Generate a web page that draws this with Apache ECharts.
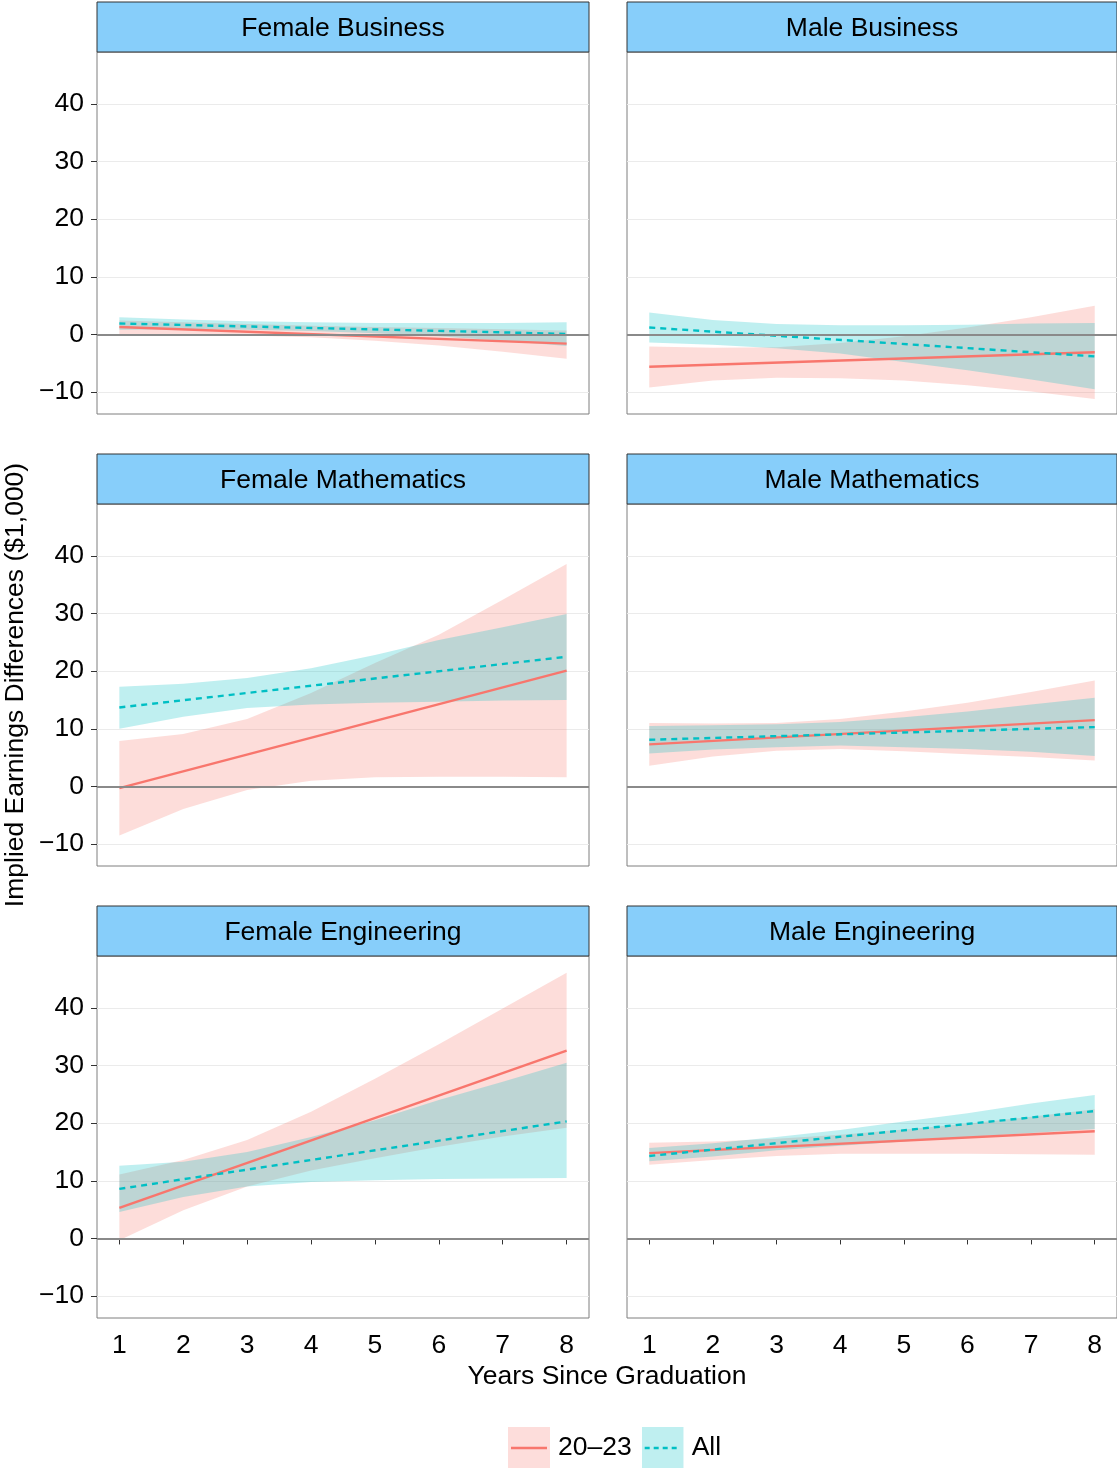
<!DOCTYPE html>
<html>
<head>
<meta charset="utf-8">
<script src="https://cdn.jsdelivr.net/npm/echarts@6/dist/echarts.min.js"></script>
<style>
  html, body { margin: 0; padding: 0; background: #fff; }
  #chart { width: 1117px; height: 1468px; }
</style>
</head>
<body>
<div id="chart"></div>
<script>
// years on the x axis (band points) and the end points of the fitted lines
const years = [1, 2, 3, 4, 5, 6, 7, 8];
const lineYears = [1, 8];
const xTicks = [1, 2, 3, 4, 5, 6, 7, 8];
const yTicks = [-10, 0, 10, 20, 30, 40];
const panelTitles = ['Female Business', 'Male Business', 'Female Mathematics',
  'Male Mathematics', 'Female Engineering', 'Male Engineering'];
const groupNames = ['20–23', 'All'];

// Female Business
const fBusYoungLine = [1.3, -1.6];
const fBusYoungHi = [2.4, 2.1, 1.8, 1.5, 1.3, 1.1, 0.9, 0.7];
const fBusYoungLo = [0.1, 0.0, -0.2, -0.5, -1.1, -1.9, -3.0, -4.2];
const fBusAllLine = [1.9, 0.1];
const fBusAllHi = [3.0, 2.6, 2.3, 2.1, 2.0, 2.0, 2.0, 2.1];
const fBusAllLo = [0.8, 0.9, 0.8, 0.6, 0.2, -0.3, -1.1, -2.0];

// Male Business
const mBusYoungLine = [-5.6, -3.1];
const mBusYoungHi = [-2.1, -2.3, -2.2, -1.5, -0.3, 1.2, 3.0, 5.0];
const mBusYoungLo = [-9.2, -8.0, -7.5, -7.6, -8.0, -8.8, -9.9, -11.2];
const mBusAllLine = [1.2, -3.8];
const mBusAllHi = [3.8, 2.5, 1.8, 1.6, 1.6, 1.7, 1.9, 2.0];
const mBusAllLo = [-1.4, -1.8, -2.4, -3.3, -4.8, -6.2, -7.8, -9.5];

// Female Mathematics
const fMathYoungLine = [-0.3, 20.1];
const fMathYoungHi = [7.9, 9.1, 11.7, 16.2, 21.4, 26.3, 32.4, 38.6];
const fMathYoungLo = [-8.5, -3.9, -0.6, 1.0, 1.6, 1.7, 1.7, 1.6];
const fMathAllLine = [13.7, 22.5];
const fMathAllHi = [17.3, 17.8, 18.8, 20.5, 22.8, 25.4, 27.6, 29.9];
const fMathAllLo = [10.0, 12.1, 13.6, 14.2, 14.5, 14.7, 14.9, 15.0];

// Male Mathematics
const mMathYoungLine = [7.3, 11.5];
const mMathYoungHi = [11.0, 10.9, 11.0, 11.7, 13.0, 14.5, 16.4, 18.4];
const mMathYoungLo = [3.6, 5.2, 6.2, 6.5, 6.1, 5.6, 5.1, 4.5];
const mMathAllLine = [8.1, 10.3];
const mMathAllHi = [10.5, 10.6, 10.8, 11.2, 12.0, 13.0, 14.2, 15.4];
const mMathAllLo = [5.7, 6.4, 6.8, 7.1, 6.8, 6.5, 6.0, 5.3];

// Female Engineering
const fEngYoungLine = [5.3, 32.6];
const fEngYoungHi = [11.1, 13.6, 17.1, 22.0, 27.7, 33.7, 39.9, 46.1];
const fEngYoungLo = [-0.3, 4.9, 9.0, 11.8, 13.9, 15.9, 17.7, 19.2];
const fEngAllLine = [8.6, 20.3];
const fEngAllHi = [12.6, 13.3, 15.0, 17.6, 20.5, 24.0, 27.2, 30.5];
const fEngAllLo = [4.6, 7.2, 9.0, 9.8, 10.1, 10.3, 10.4, 10.5];

// Male Engineering
const mEngYoungLine = [14.8, 18.6];
const mEngYoungHi = [16.6, 16.8, 17.3, 18.0, 18.9, 19.9, 21.1, 22.4];
const mEngYoungLo = [12.8, 13.6, 14.3, 14.7, 14.7, 14.7, 14.6, 14.5];
const mEngAllLine = [14.3, 22.1];
const mEngAllHi = [15.7, 16.5, 17.6, 18.8, 20.3, 21.7, 23.4, 24.9];
const mEngAllLo = [13.4, 14.2, 15.3, 16.1, 16.8, 17.6, 18.3, 19.0];

const panels = [
  [[fBusYoungLine, fBusYoungLo, fBusYoungHi], [fBusAllLine, fBusAllLo, fBusAllHi]],
  [[mBusYoungLine, mBusYoungLo, mBusYoungHi], [mBusAllLine, mBusAllLo, mBusAllHi]],
  [[fMathYoungLine, fMathYoungLo, fMathYoungHi], [fMathAllLine, fMathAllLo, fMathAllHi]],
  [[mMathYoungLine, mMathYoungLo, mMathYoungHi], [mMathAllLine, mMathAllLo, mMathAllHi]],
  [[fEngYoungLine, fEngYoungLo, fEngYoungHi], [fEngAllLine, fEngAllLo, fEngAllHi]],
  [[mEngYoungLine, mEngYoungLo, mEngYoungHi], [mEngAllLine, mEngAllLo, mEngAllHi]]
];

const FONT = '"Liberation Sans", Arial, Helvetica, sans-serif';
const FS = 26.5;
const lineColors = ['#F8766D', '#00BFC4'];
const bandColors = ['rgba(248,118,109,0.25)', 'rgba(0,191,196,0.25)'];

// layout of the facet grid
const colLeft = [97, 627];
const colWidth = [492, 490];
const rowTop = [52, 504, 956];
const plotHeight = 362;
const stripHeight = 50;

// ribbon drawn as one polygon through the library's coordinate system
function bandRenderer(color) {
  return function (params, api) {
    if (params.dataIndexInside !== 0) return null;
    const n = params.dataInsideLength;
    const upper = [];
    const lower = [];
    for (let i = 0; i < n; i++) {
      upper.push(api.coord([api.value(0, i), api.value(2, i)]));
      lower.unshift(api.coord([api.value(0, i), api.value(1, i)]));
    }
    return { type: 'polygon', shape: { points: upper.concat(lower) }, style: { fill: color } };
  };
}

const grids = [], xAxes = [], yAxes = [], series = [], graphics = [];

panels.forEach((panel, p) => {
  const row = Math.floor(p / 2), col = p % 2;
  const isBottom = row === 2, isLeft = col === 0;
  grids.push({
    left: colLeft[col], top: rowTop[row], width: colWidth[col], height: plotHeight,
    show: true, borderColor: '#7f7f7f', borderWidth: 1, backgroundColor: '#fff'
  });
  xAxes.push({
    gridIndex: p, type: 'value', min: 0.65, max: 8.35,
    axisLine: { show: false },
    axisTick: { show: isBottom, customValues: xTicks, length: 6, lineStyle: { color: '#333' } },
    axisLabel: { show: isBottom, customValues: xTicks, margin: 14, color: '#000', fontSize: FS, fontFamily: FONT },
    splitLine: { show: false }
  });
  yAxes.push({
    gridIndex: p, type: 'value', min: -13.8, max: 49,
    axisLine: { show: false },
    axisTick: { show: isLeft, customValues: yTicks, length: 6, lineStyle: { color: '#333' } },
    axisLabel: {
      show: isLeft, customValues: yTicks, margin: 13, color: '#000', fontSize: FS, fontFamily: FONT,
      padding: [7, 0, 0, 0],
      formatter: v => String(v).replace('-', '\u2212')
    },
    splitLine: { show: true, lineStyle: { color: '#EBEBEB', width: 1 } }
  });

  // bands first (red under teal), then the fitted lines
  panel.forEach((g, k) => {
    series.push({
      type: 'custom', name: groupNames[k] + ' band', xAxisIndex: p, yAxisIndex: p, silent: true,
      renderItem: bandRenderer(bandColors[k]),
      encode: { x: 0, y: [1, 2] },
      data: years.map((yr, i) => [yr, g[1][i], g[2][i]]),
      z: 2
    });
  });
  panel.forEach((g, k) => {
    const s = {
      type: 'line', name: groupNames[k], xAxisIndex: p, yAxisIndex: p,
      data: lineYears.map((yr, i) => [yr, g[0][i]]),
      symbol: 'none', silent: true,
      lineStyle: { color: lineColors[k], width: 2.4, type: k === 1 ? [6, 5] : 'solid' },
      itemStyle: { color: lineColors[k] },
      z: 4
    };
    if (k === 0) {
      s.markLine = {
        silent: true, symbol: 'none', label: { show: false },
        lineStyle: { color: '#8a8a8a', width: 2, type: 'solid' },
        data: [{ yAxis: 0 }]
      };
    }
    series.push(s);
  });

  // facet strip
  graphics.push({
    type: 'rect', z: 10,
    shape: { x: colLeft[col], y: rowTop[row] - stripHeight, width: colWidth[col], height: stripHeight },
    style: { fill: '#87CEFA', stroke: '#333', lineWidth: 1 }
  });
  graphics.push({
    type: 'text', z: 11,
    x: colLeft[col] + colWidth[col] / 2, y: rowTop[row] - stripHeight / 2 + 2,
    style: { text: panelTitles[p], font: FS + 'px ' + FONT, fill: '#000', align: 'center', verticalAlign: 'middle' }
  });
});

graphics.push({
  type: 'text', x: 607, y: 1377,
  style: { text: 'Years Since Graduation', font: FS + 'px ' + FONT, fill: '#000', align: 'center', verticalAlign: 'middle' }
});
graphics.push({
  type: 'text', x: 16, y: 685, rotation: Math.PI / 2,
  style: { text: 'Implied Earnings Differences ($1,000)', font: FS + 'px ' + FONT, fill: '#000', align: 'center', verticalAlign: 'middle' }
});

function keyIcon(fill, stroke, dash) {
  const svg = "<svg xmlns='http://www.w3.org/2000/svg' width='42' height='42'>" +
    "<rect width='42' height='42' fill='" + fill + "'/>" +
    "<line x1='3' y1='21' x2='39' y2='21' stroke='" + stroke + "' stroke-width='2.4'" +
    (dash ? " stroke-dasharray='5 4'" : '') + "/></svg>";
  return 'image://data:image/svg+xml;charset=utf-8,' + encodeURIComponent(svg);
}

const chart = echarts.init(document.getElementById('chart'));
chart.setOption({
  backgroundColor: '#fff',
  animation: false,
  textStyle: { fontFamily: FONT },
  grid: grids,
  xAxis: xAxes,
  yAxis: yAxes,
  series: series,
  graphic: graphics,
  legend: {
    left: 503, top: 1422,
    itemWidth: 42, itemHeight: 42, itemGap: 10,
    textStyle: { fontSize: FS, color: '#000', fontFamily: FONT, padding: [5, 0, 0, 3] },
    data: [
      { name: groupNames[0], icon: keyIcon('#FDDDDB', '#F8766D', false) },
      { name: groupNames[1], icon: keyIcon('#BFEFF0', '#00BFC4', true) }
    ]
  }
});
</script>
</body>
</html>
